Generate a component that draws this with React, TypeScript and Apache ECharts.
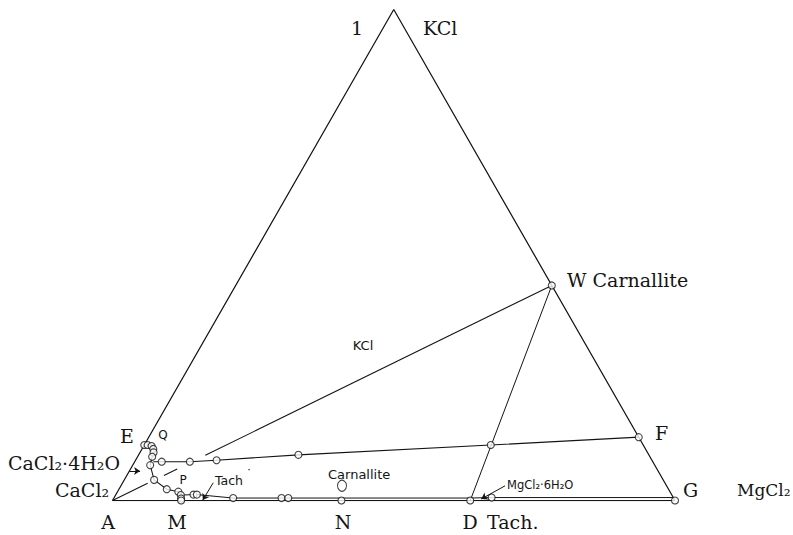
import React, { useEffect, useRef } from "react";
import * as echarts from "echarts";

// Compositions as [KCl %, MgCl2 %]; CaCl2 % is the remainder.
const triangleEdges: number[][] = [[0, 0], [100, 0], [0, 100]]; // A -> KCl apex -> G
const baseLine: number[][] = [[0, 0], [0, 100]];
const pointW: number[] = [43.8, 56.2];
const pointD: number[] = [0, 63.6];
const pointF: number[] = [12.9, 87.1];
const curveEM: number[][] = [
  [11.3, 0], [11.3, 0.6], [11.1, 1.4], [10.5, 2.0], [9.8, 2.4], [8.9, 2.6],
  [7.2, 3.1], [4.2, 5.3], [2.3, 8.5], [1.8, 10.8], [1.1, 11.6], [0.4, 12.0], [0, 12.2],
];
const upperLine: number[][] = [
  [7.9, 3.3], [7.9, 4.8], [7.9, 9.8], [8.2, 14.4], [9.3, 28.4], [11.3, 61.6], pointF,
];
const tachLine: number[][] = [
  [1.1, 11.6], [1.2, 13.8], [1.2, 14.4], [0.5, 21.2], [0.5, 29.8], [0.5, 31.0],
  [0.5, 40.6], [0.5, 63.3], [0.6, 67.1], [0.6, 99.4],
];
const lineAWSegments: number[][][] = [
  [[0, 0], [3.5, 4.5]],
  [[5.1, 6.6], [6.4, 8.3]],
  [[9.2, 11.9], [43.8, 56.2]],
];
const lineWD: number[][] = [pointW, pointD];
const tachCircles: number[][] = [
  [1.2, 13.8], [1.2, 14.4], [0.5, 21.2], [0.5, 29.8], [0.5, 31.0], [0, 40.7], [0.6, 67.1], [0, 100],
];
const largeCircle: number[][] = [[3.0, 39.3]];
const arrows: number[][][] = [
  [[6.0, 0], [6.0, 1.9]],
  [[3.6, 16.1], [0.1, 16.0]],
  [[3.0, 68.3], [0.3, 65.4]],
];

const toXY = (p: number[]): number[] => [(p[1] + p[0] / 2) / 100, p[0] / 100];

const INK = "#141414";
const SERIF = '"DejaVu Serif", serif';
const SANS = '"DejaVu Sans", sans-serif';

function txt(text: string, x: number, y: number, size: number, family: string, align = "left") {
  return {
    type: "text",
    x,
    y,
    silent: true,
    style: {
      text,
      fill: INK,
      fontSize: size,
      fontFamily: family,
      align,
      verticalAlign: "middle",
      textAlign: align,
      textVerticalAlign: "middle",
    },
  };
}

function lineSeries(points: number[][], width = 1.1, color = INK) {
  return {
    type: "line",
    data: points.map(toXY),
    showSymbol: false,
    symbol: "none",
    silent: true,
    lineStyle: { color, width },
    z: 2,
  };
}

export default function App() {
  const ref = useRef<HTMLDivElement>(null);
  useEffect(() => {
    const chart = echarts.init(ref.current!, null, { renderer: "svg" });
    const circles = [...curveEM, ...upperLine.slice(1), pointW, pointD, ...tachCircles];
    chart.setOption({
      animation: false,
      backgroundColor: "#ffffff",
      grid: { left: 112.5, right: 118, top: 9.5, bottom: 34.5 },
      xAxis: { type: "value", min: 0, max: 1, show: false },
      yAxis: { type: "value", min: 0, max: 1, show: false },
      series: [
        lineSeries(triangleEdges, 1.25),
        lineSeries(baseLine, 1.25),
        lineSeries(tachLine, 1.0),
        ...lineAWSegments.map((s) => lineSeries(s, 1.05)),
        lineSeries(lineWD, 1.0),
        lineSeries(upperLine, 1.15),
        lineSeries(curveEM, 1.05),
        {
          type: "scatter",
          data: circles.map(toXY),
          symbol: "circle",
          symbolSize: 7,
          silent: true,
          itemStyle: { color: "#ffffff", borderColor: INK, borderWidth: 1.1 },
          z: 4,
        },
        {
          type: "scatter",
          data: largeCircle.map(toXY),
          symbol: "circle",
          symbolSize: [9, 11],
          silent: true,
          itemStyle: { color: "#ffffff", borderColor: INK, borderWidth: 1.1 },
          z: 4,
        },
        {
          type: "lines",
          coordinateSystem: "cartesian2d",
          data: arrows.map((a) => ({ coords: a.map(toXY) })),
          symbol: ["none", "arrow"],
          symbolSize: 6,
          silent: true,
          lineStyle: { color: INK, width: 1, opacity: 1 },
          z: 5,
        },
      ],
      graphic: [
        txt("1", 357, 28, 19, SERIF, "center"),
        txt("KCl", 423, 28, 19, SERIF),
        txt("W Carnallite", 567, 280, 19, SERIF),
        txt("KCl", 363, 345, 13, SANS, "center"),
        txt("E", 127, 436, 19, SERIF, "center"),
        txt("Q", 163, 435, 12, SANS, "center"),
        txt("CaCl\u2082\u00b74H\u2082O", 8, 463, 19, SERIF),
        txt("CaCl\u2082", 55, 490, 19, SERIF),
        txt("P", 183, 480, 12, SANS, "center"),
        txt("Tach", 215, 480, 12.5, SANS),
        txt("\u02d9", 249, 474, 12, SANS, "center"),
        txt("Carnallite", 328, 474, 13, SANS),
        txt("MgCl\u2082\u00b76H\u2082O", 507, 485, 11.5, SANS),
        txt("F", 655, 433, 19, SERIF),
        txt("G", 683, 490, 19, SERIF),
        txt("MgCl\u2082", 737, 490, 17, SERIF),
        txt("A", 108, 522, 19, SERIF, "center"),
        txt("M", 177, 522, 19, SERIF, "center"),
        txt("N", 343, 522, 19, SERIF, "center"),
        txt("D", 470, 522, 19, SERIF, "center"),
        txt("Tach.", 487, 522, 19, SERIF),
      ],
    });
    return () => chart.dispose();
  }, []);
  return (
    <div
      ref={ref}
      style={{ position: "fixed", left: 0, top: 0, width: 793, height: 535, background: "#ffffff" }}
    />
  );
}
